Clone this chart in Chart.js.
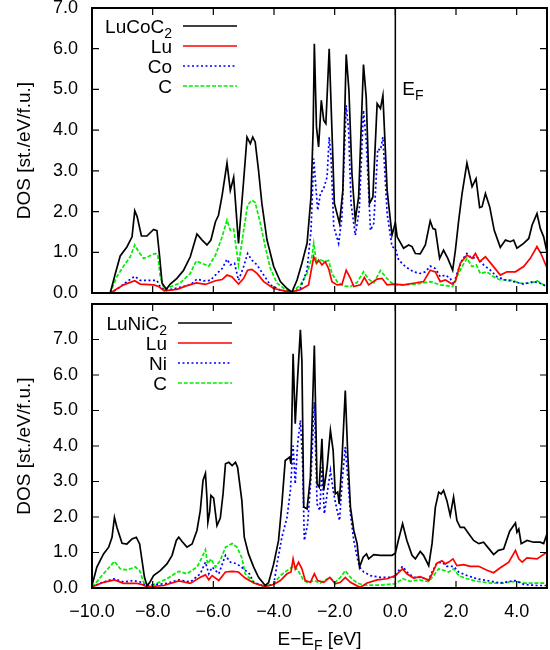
<!DOCTYPE html>
<html lang="en">
<head>
<meta charset="UTF-8">
<title>DOS LuCoC2 / LuNiC2</title>
<style>
  body { margin: 0; background: #fff; }
  #wrap { position: relative; width: 550px; height: 650px; }
  #topBox { position: absolute; left: 0; top: 0; }
  #botBox { position: absolute; left: 0; top: 297px; }
</style>
</head>
<body>
<div id="wrap">
  <div id="topBox"><canvas id="topChart" width="550" height="300"></canvas></div>
  <div id="botBox"><canvas id="botChart" width="550" height="353"></canvas></div>
</div>

<script src="https://cdn.jsdelivr.net/npm/chart.js"></script>
<script>
// axis ticks
const xTickValues = [-10, -8, -6, -4, -2, 0, 2, 4];
const yTickValues = [0, 1, 2, 3, 4, 5, 6, 7];

// legend labels (_{..} = subscript)
const topLabels = ['LuCoC_{2}', 'Lu', 'Co', 'C'];
const botLabels = ['LuNiC_{2}', 'Lu', 'Ni', 'C'];

// LuCoC2: [E - EF (eV), DOS]
const coTotal = [[-10,0],[-9.4,0],[-9.23,0.48],[-9.07,0.91],[-8.85,1.13],[-8.68,1.38],[-8.59,2.02],[-8.51,1.87],[-8.37,1.40],[-8.19,1.40],[-7.97,1.56],[-7.86,1.53],[-7.77,0.89],[-7.69,0.24],[-7.55,0.09],[-7.42,0.22],[-7.20,0.36],[-6.98,0.56],[-6.76,0.89],[-6.54,1.45],[-6.37,1.30],[-6.21,1.18],[-6.08,1.30],[-5.93,1.75],[-5.83,1.91],[-5.71,2.40],[-5.55,3.19],[-5.44,2.52],[-5.33,2.84],[-5.17,1.22],[-5.00,2.77],[-4.89,3.83],[-4.78,3.67],[-4.70,3.83],[-4.62,3.71],[-4.51,3.01],[-4.40,2.20],[-4.23,1.30],[-4.01,0.65],[-3.79,0.28],[-3.57,0.11],[-3.41,0.02],[-3.24,0.32],[-3.08,0.73],[-2.91,1.22],[-2.78,2.36],[-2.71,4.0],[-2.67,6.12],[-2.60,4.08],[-2.53,3.59],[-2.44,4.73],[-2.36,4.24],[-2.29,4.16],[-2.18,6.0],[-2.09,4.0],[-2.01,2.20],[-1.84,1.71],[-1.73,2.52],[-1.62,5.86],[-1.53,4.98],[-1.43,2.93],[-1.32,1.79],[-1.21,2.36],[-1.05,5.61],[-0.96,4.81],[-0.85,2.20],[-0.74,2.36],[-0.60,4.65],[-0.49,4.53],[-0.41,4.85],[-0.27,2.52],[-0.11,1.42],[0.0,1.73],[0.06,1.38],[0.27,1.10],[0.44,1.18],[0.55,1.14],[0.66,0.97],[0.82,0.96],[0.99,1.18],[1.15,1.77],[1.24,1.58],[1.32,1.56],[1.46,0.85],[1.59,1.05],[1.73,0.85],[1.89,0.56],[1.98,1.05],[2.09,1.79],[2.20,2.44],[2.36,3.19],[2.53,2.61],[2.66,2.81],[2.78,2.10],[2.86,2.12],[2.97,2.44],[3.11,2.12],[3.26,1.54],[3.46,1.12],[3.63,1.30],[3.79,1.26],[3.90,1.30],[4.01,1.10],[4.23,1.22],[4.40,1.34],[4.51,1.67],[4.67,1.95],[4.78,1.58],[4.89,1.38],[5.0,1.0]];
const coLu = [[-10,0],[-9.4,0],[-9.29,0.05],[-8.96,0.20],[-8.59,0.30],[-8.41,0.22],[-7.97,0.20],[-7.80,0.16],[-7.62,0.05],[-7.20,0.09],[-6.87,0.18],[-6.56,0.25],[-6.26,0.21],[-5.93,0.30],[-5.71,0.33],[-5.55,0.44],[-5.39,0.40],[-5.17,0.22],[-5.00,0.36],[-4.87,0.56],[-4.73,0.58],[-4.56,0.48],[-4.34,0.28],[-4.01,0.11],[-3.46,0.02],[-3.13,0.08],[-2.86,0.20],[-2.69,0.89],[-2.60,0.73],[-2.53,0.81],[-2.42,0.69],[-2.31,0.77],[-2.20,0.60],[-2.09,0.28],[-1.92,0.20],[-1.76,0.21],[-1.62,0.56],[-1.48,0.36],[-1.37,0.16],[-1.15,0.20],[-1.02,0.38],[-0.88,0.20],[-0.60,0.34],[-0.44,0.36],[-0.27,0.20],[-0.05,0.22],[0.27,0.20],[0.60,0.24],[0.93,0.28],[1.15,0.56],[1.32,0.52],[1.48,0.28],[1.65,0.32],[1.87,0.22],[1.98,0.28],[2.14,0.73],[2.36,0.93],[2.53,0.85],[2.64,0.97],[2.78,0.77],[2.97,0.89],[3.19,0.69],[3.46,0.44],[3.68,0.52],[3.96,0.52],[4.23,0.65],[4.45,0.85],[4.67,1.14],[4.80,0.97],[4.98,0.65]];
const coCo = [[-10,0],[-9.4,0],[-9.18,0.09],[-8.85,0.28],[-8.59,0.41],[-8.41,0.31],[-8.13,0.31],[-7.86,0.31],[-7.75,0.15],[-7.58,0.06],[-7.20,0.12],[-6.76,0.20],[-6.54,0.34],[-6.32,0.30],[-6.10,0.31],[-5.88,0.48],[-5.71,0.60],[-5.55,0.83],[-5.44,0.69],[-5.30,0.73],[-5.17,0.31],[-5.00,0.65],[-4.87,0.97],[-4.73,0.81],[-4.56,0.69],[-4.34,0.44],[-4.12,0.20],[-3.79,0.07],[-3.35,0.02],[-3.13,0.12],[-2.91,0.56],[-2.78,1.54],[-2.69,3.30],[-2.62,2.61],[-2.56,2.03],[-2.47,2.44],[-2.36,2.57],[-2.25,2.85],[-2.18,3.83],[-2.12,3.35],[-2.03,1.63],[-1.87,1.22],[-1.76,1.87],[-1.62,4.61],[-1.54,4.0],[-1.46,2.20],[-1.32,1.42],[-1.19,2.03],[-1.05,4.49],[-0.96,3.75],[-0.82,1.54],[-0.71,1.71],[-0.58,3.54],[-0.49,3.51],[-0.41,3.83],[-0.27,1.95],[-0.11,1.14],[0.0,1.10],[0.11,0.81],[0.33,0.65],[0.60,0.52],[0.82,0.48],[0.99,0.52],[1.15,0.66],[1.32,0.60],[1.48,0.40],[1.65,0.44],[1.81,0.36],[1.92,0.20],[2.03,0.48],[2.20,0.81],[2.36,0.97],[2.53,0.85],[2.69,0.89],[2.91,0.69],[3.13,0.56],[3.35,0.40],[3.63,0.32],[3.90,0.28],[4.23,0.22],[4.56,0.28],[4.78,0.24],[4.98,0.16]];
const coC = [[-10,0],[-9.4,0],[-9.18,0.40],[-8.96,0.66],[-8.74,0.89],[-8.59,1.18],[-8.46,1.01],[-8.30,0.85],[-8.10,0.91],[-7.91,0.97],[-7.83,0.93],[-7.75,0.40],[-7.62,0.09],[-7.42,0.15],[-7.09,0.25],[-6.76,0.48],[-6.56,0.79],[-6.39,0.73],[-6.15,0.66],[-5.93,0.93],[-5.71,1.38],[-5.55,1.79],[-5.44,1.54],[-5.33,1.57],[-5.17,0.69],[-5.00,1.54],[-4.87,2.16],[-4.73,2.28],[-4.62,2.22],[-4.45,1.71],[-4.29,1.14],[-4.12,0.60],[-3.90,0.24],[-3.57,0.06],[-3.41,0.02],[-3.13,0.20],[-2.91,0.48],[-2.75,0.89],[-2.69,1.22],[-2.60,0.73],[-2.47,0.81],[-2.31,0.77],[-2.20,0.80],[-2.09,0.48],[-1.92,0.28],[-1.70,0.17],[-1.48,0.16],[-1.26,0.26],[-1.05,0.52],[-0.88,0.34],[-0.71,0.25],[-0.49,0.55],[-0.27,0.35],[-0.05,0.20],[0.27,0.20],[0.71,0.22],[1.15,0.28],[1.48,0.20],[1.89,0.16],[2.03,0.40],[2.20,0.65],[2.36,0.85],[2.53,0.65],[2.67,0.69],[2.80,0.48],[3.02,0.52],[3.24,0.40],[3.46,0.32],[3.79,0.32],[4.12,0.24],[4.45,0.24],[4.67,0.30],[4.98,0.16]];

// LuNiC2
const niTotal = [[-10,0.07],[-9.84,0.59],[-9.62,0.96],[-9.45,1.15],[-9.34,1.43],[-9.26,1.99],[-9.18,1.71],[-9.01,1.26],[-8.85,1.24],[-8.68,1.38],[-8.54,1.43],[-8.43,1.24],[-8.35,0.77],[-8.27,0.30],[-8.19,0.07],[-8.10,0.15],[-7.97,0.35],[-7.75,0.49],[-7.53,0.68],[-7.36,0.92],[-7.22,1.34],[-7.14,1.43],[-7.03,1.31],[-6.87,1.15],[-6.70,1.24],[-6.54,1.62],[-6.43,2.18],[-6.34,3.03],[-6.26,3.23],[-6.21,2.53],[-6.18,1.85],[-6.12,2.15],[-6.08,2.61],[-5.99,2.53],[-5.88,1.76],[-5.77,1.97],[-5.68,2.65],[-5.60,3.50],[-5.49,3.54],[-5.38,3.45],[-5.27,3.54],[-5.20,3.40],[-5.06,2.46],[-4.98,1.43],[-4.84,0.96],[-4.67,0.59],[-4.51,0.30],[-4.29,0.07],[-4.18,0.15],[-4.01,0.68],[-3.85,1.34],[-3.74,2.37],[-3.63,3.59],[-3.48,3.69],[-3.44,3.50],[-3.37,6.60],[-3.30,4.63],[-3.22,5.94],[-3.13,7.27],[-3.08,6.40],[-3.02,2.28],[-2.91,2.23],[-2.80,3.12],[-2.67,6.83],[-2.58,2.93],[-2.51,2.84],[-2.42,4.20],[-2.36,2.75],[-2.25,3.40],[-2.14,4.44],[-2.05,3.87],[-1.98,2.65],[-1.90,2.70],[-1.85,2.37],[-1.76,3.59],[-1.65,5.56],[-1.57,3.78],[-1.48,2.28],[-1.37,1.62],[-1.26,1.25],[-1.18,0.59],[-1.06,0.87],[-0.95,0.96],[-0.88,0.82],[-0.71,0.94],[-0.49,0.92],[-0.27,0.92],[-0.11,0.92],[0.0,0.98],[0.11,1.38],[0.24,1.81],[0.38,1.34],[0.55,0.92],[0.66,0.82],[0.82,1.03],[0.93,0.92],[1.10,0.63],[1.21,1.25],[1.32,2.28],[1.43,2.70],[1.51,2.65],[1.59,2.75],[1.70,2.46],[1.81,2.04],[1.92,2.56],[2.03,1.90],[2.14,1.71],[2.27,1.71],[2.42,1.53],[2.58,1.34],[2.75,1.25],[2.91,1.29],[3.13,1.06],[3.24,0.94],[3.40,1.06],[3.57,1.10],[3.77,1.60],[3.96,1.83],[4.01,1.57],[4.07,1.66],[4.15,1.25],[4.34,1.34],[4.56,1.29],[4.78,1.29],[4.89,1.25],[5.0,1.53]];
const niLu = [[-10,0.03],[-9.62,0.16],[-9.26,0.23],[-8.96,0.13],[-8.52,0.13],[-8.35,0.10],[-8.19,0.03],[-7.64,0.07],[-7.14,0.20],[-6.76,0.13],[-6.43,0.30],[-6.26,0.37],[-6.15,0.23],[-6.04,0.35],[-5.82,0.21],[-5.60,0.45],[-5.38,0.47],[-5.17,0.45],[-4.95,0.28],[-4.67,0.14],[-4.29,0.04],[-4.01,0.10],[-3.79,0.21],[-3.57,0.40],[-3.44,0.45],[-3.37,0.82],[-3.30,0.54],[-3.19,0.73],[-3.08,0.54],[-2.97,0.21],[-2.80,0.16],[-2.67,0.40],[-2.56,0.21],[-2.36,0.16],[-2.16,0.30],[-1.98,0.12],[-1.81,0.16],[-1.65,0.30],[-1.48,0.16],[-1.26,0.06],[-1.15,0.02],[-0.93,0.14],[-0.60,0.23],[-0.27,0.26],[0.0,0.35],[0.24,0.54],[0.38,0.40],[0.60,0.28],[0.82,0.32],[0.99,0.26],[1.10,0.21],[1.21,0.40],[1.37,0.70],[1.54,0.77],[1.65,0.68],[1.76,0.73],[1.90,0.82],[2.03,0.63],[2.25,0.66],[2.47,0.61],[2.75,0.61],[3.02,0.50],[3.24,0.43],[3.46,0.57],[3.74,0.73],[3.96,1.06],[4.07,0.82],[4.18,0.73],[4.34,0.85],[4.67,0.82],[5.0,1.01]];
const niNi = [[-10,0.03],[-9.62,0.17],[-9.26,0.26],[-8.96,0.17],[-8.63,0.21],[-8.41,0.17],[-8.24,0.07],[-7.86,0.10],[-7.53,0.13],[-7.14,0.23],[-6.76,0.17],[-6.43,0.40],[-6.26,0.73],[-6.15,0.40],[-6.04,0.59],[-5.82,0.40],[-5.60,0.92],[-5.44,0.73],[-5.22,0.68],[-5.00,0.54],[-4.81,0.40],[-4.67,0.16],[-4.34,0.06],[-4.01,0.09],[-3.90,0.68],[-3.74,1.43],[-3.57,1.99],[-3.46,2.75],[-3.37,4.01],[-3.30,2.93],[-3.22,4.06],[-3.13,4.72],[-3.06,3.59],[-3.00,1.34],[-2.89,1.81],[-2.78,3.12],[-2.67,5.23],[-2.58,2.37],[-2.49,2.18],[-2.42,3.40],[-2.34,2.09],[-2.25,2.65],[-2.14,3.31],[-2.03,2.65],[-1.92,2.18],[-1.84,1.90],[-1.75,3.03],[-1.65,3.97],[-1.57,3.12],[-1.48,2.09],[-1.37,1.34],[-1.26,0.87],[-1.18,0.59],[-1.04,0.45],[-0.82,0.35],[-0.49,0.30],[-0.16,0.30],[0.0,0.32],[0.11,0.49],[0.24,0.61],[0.38,0.45],[0.60,0.30],[0.82,0.30],[0.99,0.26],[1.10,0.23],[1.21,0.45],[1.37,0.70],[1.54,0.73],[1.70,0.61],[1.92,0.61],[2.09,0.45],[2.36,0.35],[2.69,0.26],[3.02,0.21],[3.46,0.14],[3.96,0.21],[4.23,0.10],[4.67,0.07],[5.0,0.07]];
const niC = [[-10,0.03],[-9.95,0.07],[-9.62,0.40],[-9.26,0.75],[-9.07,0.54],[-8.85,0.51],[-8.57,0.59],[-8.43,0.49],[-8.30,0.16],[-8.19,0.04],[-7.86,0.13],[-7.53,0.26],[-7.14,0.47],[-6.87,0.40],[-6.54,0.59],[-6.37,0.87],[-6.26,1.08],[-6.19,0.68],[-6.08,0.82],[-5.93,0.59],[-5.77,0.78],[-5.60,1.15],[-5.38,1.25],[-5.22,1.15],[-5.06,0.85],[-4.95,0.40],[-4.67,0.16],[-4.34,0.04],[-4.01,0.12],[-3.79,0.35],[-3.57,0.49],[-3.41,0.59],[-3.33,0.62],[-3.19,0.47],[-3.02,0.21],[-2.86,0.14],[-2.69,0.21],[-2.47,0.14],[-2.16,0.30],[-1.98,0.16],[-1.81,0.30],[-1.65,0.49],[-1.48,0.30],[-1.26,0.14],[-1.04,0.08],[-0.49,0.08],[0.0,0.12],[0.24,0.26],[0.49,0.19],[0.77,0.23],[1.10,0.18],[1.26,0.35],[1.43,0.54],[1.59,0.50],[1.76,0.45],[1.92,0.54],[2.09,0.35],[2.36,0.26],[2.69,0.19],[3.13,0.14],[3.57,0.14],[3.96,0.19],[4.23,0.14],[5.0,0.14]];

const family = '"Liberation Sans", Arial, sans-serif';

// line styles: total, Lu, TM, C
const styles = [
  { color: '#000000', dash: [] },
  { color: '#ff0000', dash: [] },
  { color: '#0000ff', dash: [2, 2.5] },
  { color: '#00ee00', dash: [4, 1.8] }
];

// text with _{...} subscripts
function richText(ctx, str, x, y, size, align) {
  const parts = [];
  const re = /_\{([^}]*)\}/g;
  let last = 0, m;
  while ((m = re.exec(str)) !== null) {
    if (m.index > last) parts.push({ t: str.slice(last, m.index), sub: false });
    parts.push({ t: m[1], sub: true });
    last = re.lastIndex;
  }
  if (last < str.length) parts.push({ t: str.slice(last), sub: false });
  const subSize = Math.round(size * 0.72);
  let w = 0;
  parts.forEach(p => {
    ctx.font = (p.sub ? subSize : size) + 'px ' + family;
    p.w = ctx.measureText(p.t).width;
    w += p.w;
  });
  let cx = align === 'right' ? x - w : align === 'center' ? x - w / 2 : x;
  ctx.textAlign = 'left';
  ctx.textBaseline = 'alphabetic';
  parts.forEach(p => {
    ctx.font = (p.sub ? subSize : size) + 'px ' + family;
    ctx.fillText(p.t, cx, p.sub ? y + size * 0.28 : y);
    cx += p.w;
  });
}

const panelDecor = {
  id: 'panelDecor',
  afterDatasetsDraw(chart, args, opts) {
    const { ctx, chartArea: a, scales: { x, y } } = chart;
    ctx.save();
    ctx.strokeStyle = '#000';
    ctx.fillStyle = '#000';
    ctx.setLineDash([]);

    // Fermi level
    const x0 = x.getPixelForValue(0);
    ctx.lineWidth = 1.5;
    ctx.beginPath();
    ctx.moveTo(x0, a.top);
    ctx.lineTo(x0, a.bottom);
    ctx.stroke();

    // inward ticks, mirrored
    ctx.lineWidth = 1.2;
    ctx.beginPath();
    xTickValues.forEach(v => {
      const px = x.getPixelForValue(v);
      ctx.moveTo(px, a.bottom); ctx.lineTo(px, a.bottom - 7);
      ctx.moveTo(px, a.top); ctx.lineTo(px, a.top + 7);
    });
    yTickValues.forEach(v => {
      const py = y.getPixelForValue(v);
      ctx.moveTo(a.left, py); ctx.lineTo(a.left + 7, py);
      ctx.moveTo(a.right, py); ctx.lineTo(a.right - 7, py);
    });
    ctx.stroke();

    // frame
    ctx.lineWidth = 2;
    ctx.strokeRect(a.left, a.top, a.width, a.height);

    // key
    const k = opts.key;
    opts.labels.forEach((lab, i) => {
      const ry = a.top + k.top + i * k.step;
      richText(ctx, lab, a.left + k.textRight, ry + 6.5, 19, 'right');
      ctx.strokeStyle = styles[i].color;
      ctx.lineWidth = 1.7;
      ctx.setLineDash(styles[i].dash);
      ctx.beginPath();
      ctx.moveTo(a.left + k.lineFrom, ry);
      ctx.lineTo(a.left + k.lineTo, ry);
      ctx.stroke();
    });
    ctx.setLineDash([]);

    if (opts.efLabel) richText(ctx, 'E_{F}', x0 + 7, a.top + 87, 19, 'left');
    if (opts.xTitle) richText(ctx, 'E\u2212E_{F} [eV]', (a.left + a.right) / 2, chart.height - 5, 19, 'center');
    ctx.restore();
  }
};

function makeDatasets(series, names) {
  return series.map((pts, i) => ({
    label: names[i],
    data: pts.map(([e, d]) => ({ x: e, y: d })),
    borderColor: styles[i].color,
    borderWidth: 1.7,
    borderDash: styles[i].dash,
    pointRadius: 0,
    tension: 0,
    fill: false
  }));
}

function noPad(s) {
  s.paddingTop = 0; s.paddingBottom = 0; s.paddingLeft = 0; s.paddingRight = 0;
}

function yScale(max) {
  return {
    type: 'linear',
    min: 0,
    max: max,
    afterBuildTicks: s => { s.ticks = yTickValues.map(v => ({ value: v })); },
    afterFit: s => { s.width = 92; noPad(s); },
    grid: { display: false, drawTicks: false },
    border: { display: false },
    ticks: {
      padding: 14,
      color: '#000',
      font: { size: 18, family: family },
      callback: v => Number(v).toFixed(1)
    },
    title: {
      display: true,
      text: 'DOS [st./eV/f.u.]',
      color: '#000',
      font: { size: 19, family: family },
      padding: { top: 13, bottom: 0 }
    }
  };
}

new Chart(document.getElementById('topChart'), {
  type: 'line',
  data: { datasets: makeDatasets([coTotal, coLu, coCo, coC], topLabels) },
  options: {
    responsive: false,
    animation: false,
    devicePixelRatio: 1,
    layout: { autoPadding: false, padding: { top: 8, right: 3, bottom: 7, left: 0 } },
    plugins: {
      legend: { display: false },
      tooltip: { enabled: false },
      panelDecor: {
        labels: topLabels,
        key: { textRight: 80, lineFrom: 91, lineTo: 145, top: 18, step: 20 },
        efLabel: true,
        xTitle: false
      }
    },
    scales: {
      x: { type: 'linear', min: -10, max: 5, display: false },
      y: yScale(7)
    }
  },
  plugins: [panelDecor]
});

new Chart(document.getElementById('botChart'), {
  type: 'line',
  data: { datasets: makeDatasets([niTotal, niLu, niNi, niC], botLabels) },
  options: {
    responsive: false,
    animation: false,
    devicePixelRatio: 1,
    layout: { autoPadding: false, padding: { top: 7, right: 3, bottom: 0, left: 0 } },
    plugins: {
      legend: { display: false },
      tooltip: { enabled: false },
      panelDecor: {
        labels: botLabels,
        key: { textRight: 75, lineFrom: 86, lineTo: 140, top: 19, step: 20 },
        efLabel: false,
        xTitle: true
      }
    },
    scales: {
      x: {
        type: 'linear',
        min: -10,
        max: 5,
        afterBuildTicks: s => { s.ticks = xTickValues.map(v => ({ value: v })); },
        afterFit: s => { s.height = 62; noPad(s); },
        grid: { display: false, drawTicks: false },
        border: { display: false },
        ticks: {
          padding: 13,
          maxRotation: 0,
          autoSkip: false,
          color: '#000',
          font: { size: 18, family: family },
          callback: v => Number(v).toFixed(1).replace('-', '\u2212')
        }
      },
      y: yScale(8)
    }
  },
  plugins: [panelDecor]
});
</script>
</body>
</html>
